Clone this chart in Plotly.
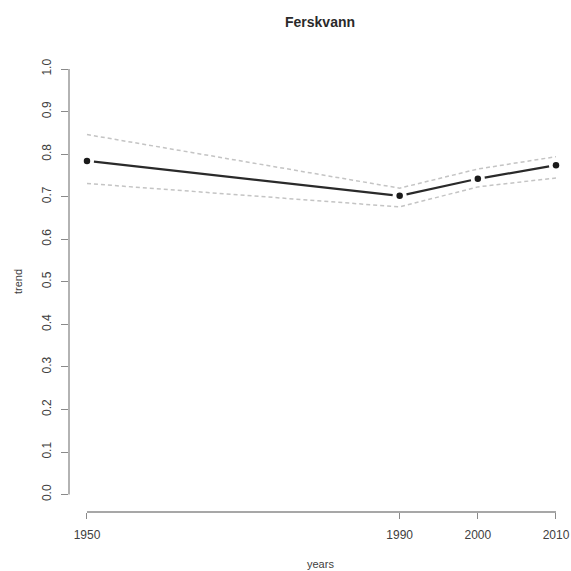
import numpy as np
import plotly.graph_objects as go

# ---- data ----
years = [1950, 1990, 2000, 2010]
trend = [0.784, 0.702, 0.742, 0.774]
upper = [0.846, 0.720, 0.765, 0.794]
lower = [0.731, 0.676, 0.723, 0.744]
y_ticks = [0.0, 0.1, 0.2, 0.3, 0.4, 0.5, 0.6, 0.7, 0.8, 0.9, 1.0]
y_tick_labels = ["0.0", "0.1", "0.2", "0.3", "0.4", "0.5", "0.6", "0.7", "0.8", "0.9", "1.0"]
title = "Ferskvann"
x_title = "years"
y_title = "trend"

# ---- layout geometry ----
W, H = 571, 571
ML, MR, MT, MB = 69, 0, 52, 59
xr = [1947.70, 2011.92]
yr = [-0.041, 1.04]
pw, ph = W - ML - MR, H - MT - MB
sx = pw / (xr[1] - xr[0])
sy = ph / (yr[1] - yr[0])

# R type="b": line segments with gaps around the points
gap = 7.0
seg_x, seg_y = [], []
for i in range(len(years) - 1):
    x0, y0, x1, y1 = years[i], trend[i], years[i + 1], trend[i + 1]
    dx, dy = (x1 - x0) * sx, (y1 - y0) * sy
    L = np.hypot(dx, dy)
    f = gap / L
    seg_x += [x0 + f * (x1 - x0), x1 - f * (x1 - x0), None]
    seg_y += [y0 + f * (y1 - y0), y1 - f * (y1 - y0), None]

fig = go.Figure()
fig.add_trace(go.Scatter(x=years, y=upper, mode="lines",
                         line=dict(color="#c4c4c4", width=1.5, dash="4px,3px"),
                         hoverinfo="skip", showlegend=False))
fig.add_trace(go.Scatter(x=years, y=lower, mode="lines",
                         line=dict(color="#c4c4c4", width=1.5, dash="4px,3px"),
                         hoverinfo="skip", showlegend=False))
fig.add_trace(go.Scatter(x=seg_x, y=seg_y, mode="lines",
                         line=dict(color="#2a2a2a", width=2.2),
                         hoverinfo="skip", showlegend=False))
fig.add_trace(go.Scatter(x=years, y=trend, mode="markers",
                         marker=dict(color="#1a1a1a", size=6.5),
                         showlegend=False))

axis_col = "#8a8a8a"
fig.update_xaxes(range=xr, tickvals=years, ticktext=[str(v) for v in years],
                 ticks="outside", ticklen=6, tickcolor=axis_col, tickwidth=1.3,
                 showline=False, showgrid=False, zeroline=False,
                 tickfont=dict(family="Liberation Sans, Arial", size=12, color="#404040"),
                 ticklabelstandoff=6)
fig.update_yaxes(range=yr, tickvals=y_ticks, ticktext=y_tick_labels,
                 ticks="outside", ticklen=7, tickcolor=axis_col, tickwidth=1.3,
                 showline=False, showgrid=False, zeroline=False, tickangle=-90,
                 tickfont=dict(family="Liberation Sans, Arial", size=12, color="#404040"),
                 ticklabelstandoff=5)

# axis lines spanning only first..last tick (R style)
fig.add_shape(type="line", xref="x", yref="paper", x0=years[0], x1=years[-1], y0=0, y1=0,
              line=dict(color=axis_col, width=1.3))
fig.add_shape(type="line", xref="paper", yref="y", x0=0, x1=0, y0=y_ticks[0], y1=y_ticks[-1],
              line=dict(color=axis_col, width=1.3))

fig.add_annotation(text="<b>" + title + "</b>", xref="paper", yref="paper",
                   x=0.5, y=(H - 22 - MB) / ph, xanchor="center", yanchor="middle",
                   showarrow=False, font=dict(family="Liberation Sans, Arial", size=14, color="#2a2a2a"))
fig.add_annotation(text=x_title, xref="paper", yref="paper",
                   x=0.5, y=-(564 - (H - MB)) / ph, xanchor="center", yanchor="middle",
                   showarrow=False, font=dict(family="Liberation Sans, Arial", size=11, color="#404040"))
fig.add_annotation(text=y_title, xref="paper", yref="paper", textangle=-90,
                   x=-(ML - 18) / pw, y=0.5, xanchor="center", yanchor="middle",
                   showarrow=False, font=dict(family="Liberation Sans, Arial", size=11, color="#404040"))

fig.update_layout(width=W, height=H, margin=dict(l=ML, r=MR, t=MT, b=MB),
                  plot_bgcolor="white", paper_bgcolor="white", showlegend=False)
fig.write_html("out.html", config={"displayModeBar": False},
               post_script="document.body.style.margin='0';document.body.style.overflow='hidden';")
